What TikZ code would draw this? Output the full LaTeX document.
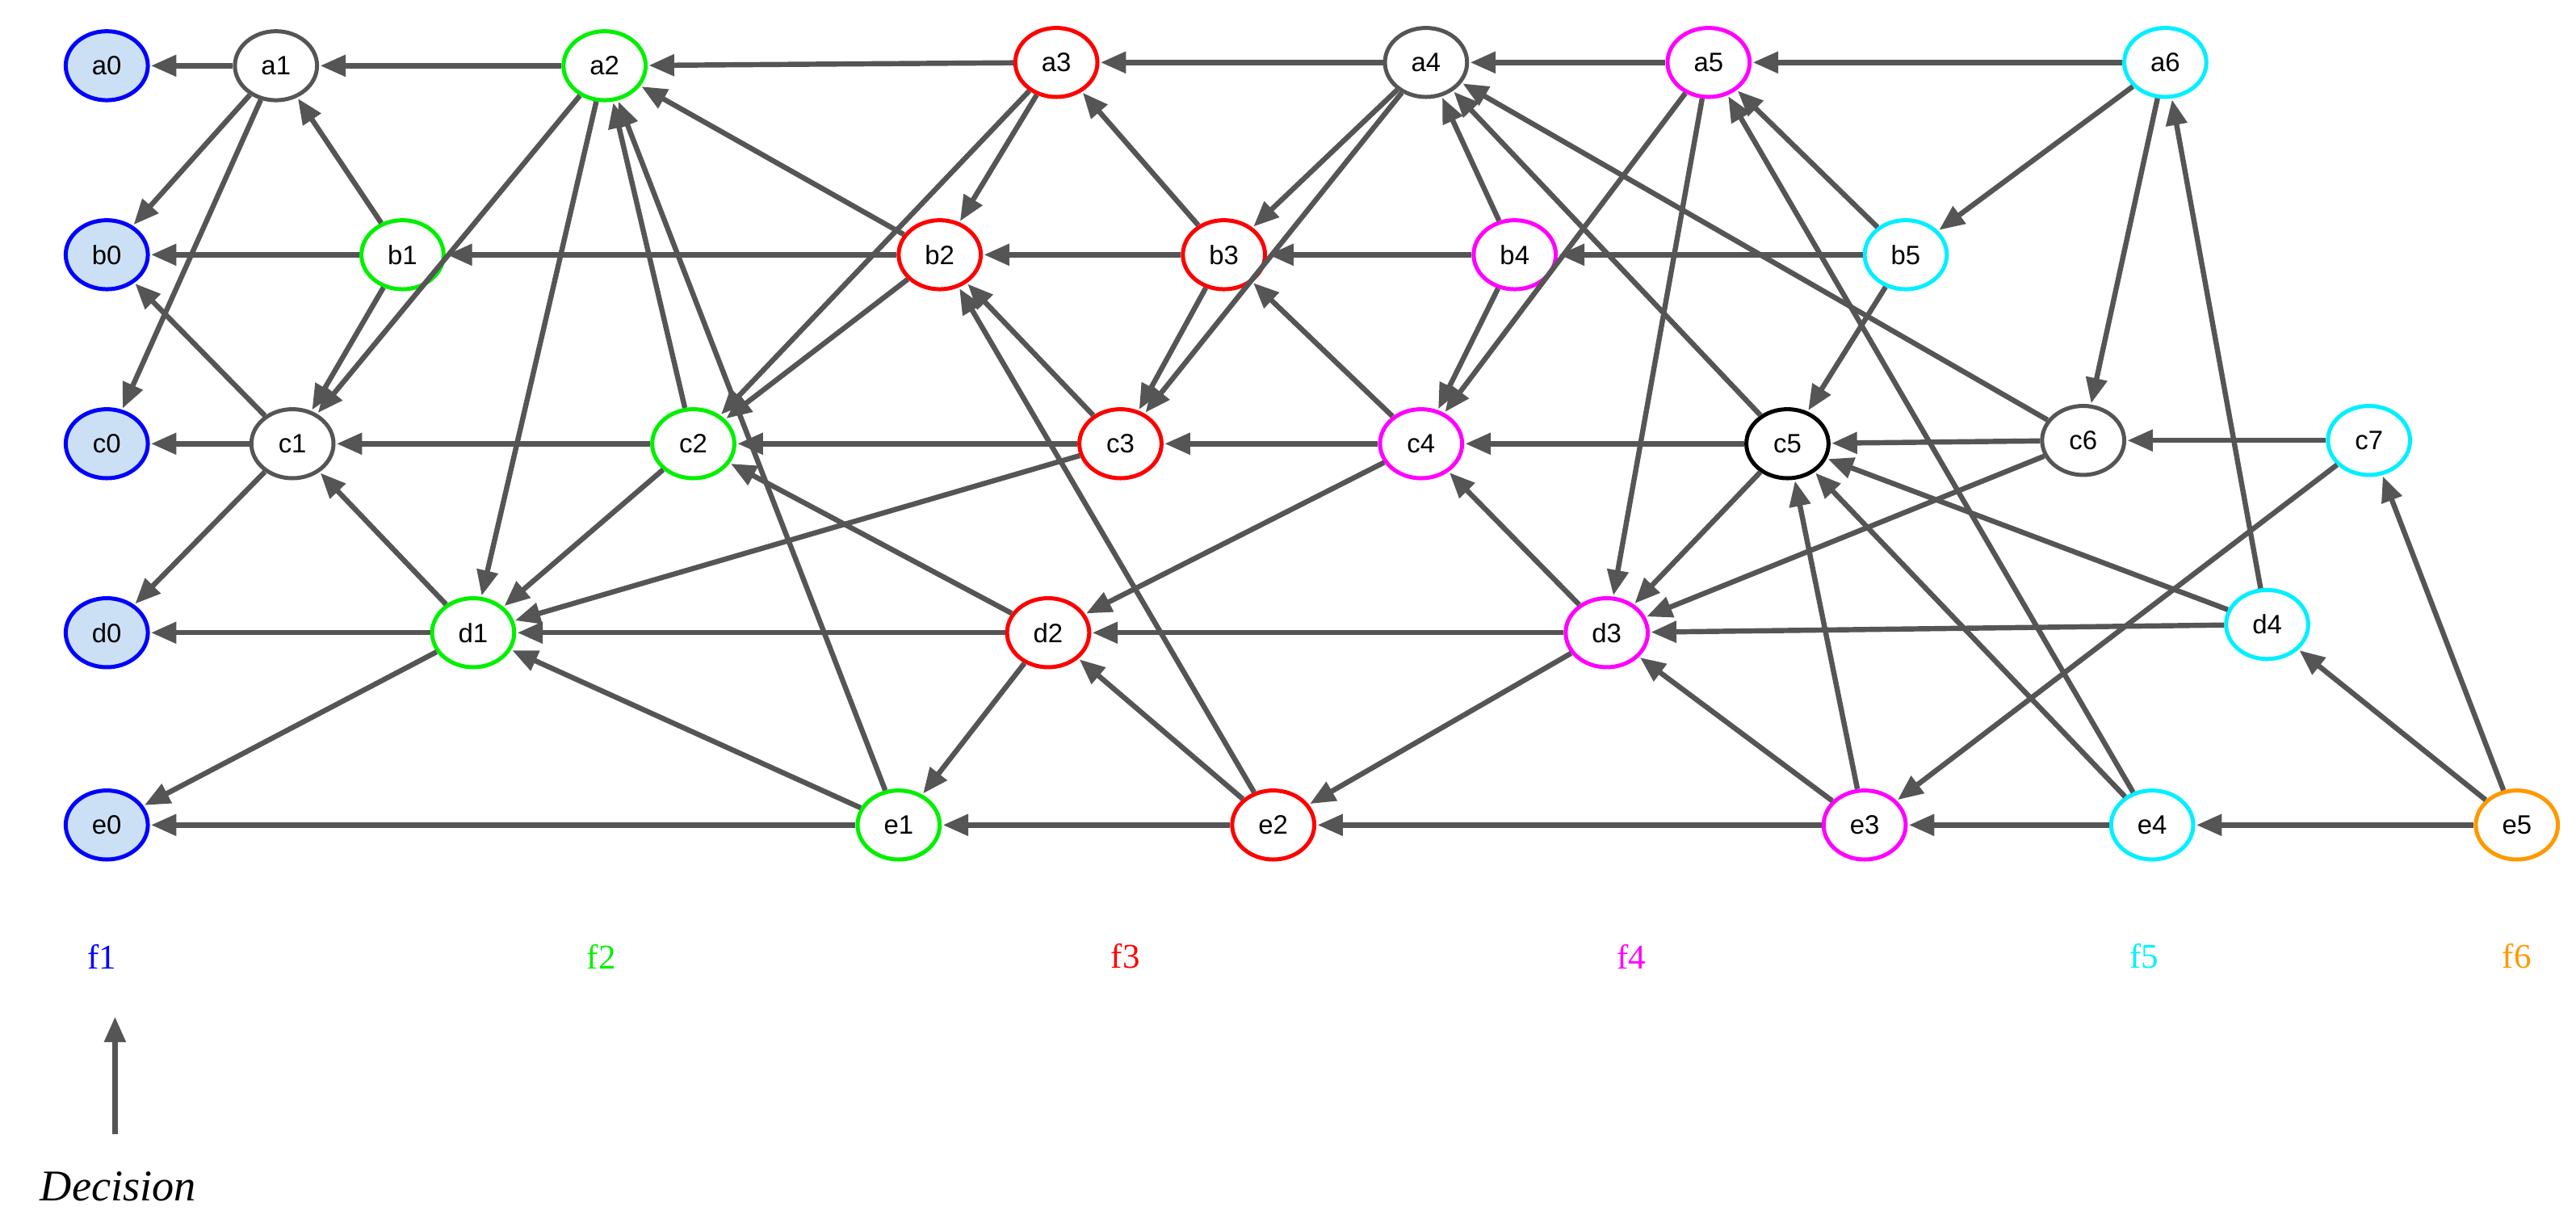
\documentclass[tikz,border=0pt]{standalone}
\usepackage{fontspec}
\setsansfont{Liberation Sans}
\setmainfont{Liberation Serif}
\usetikzlibrary{arrows.meta,shapes.geometric}
\definecolor{eg}{RGB}{85,85,85}
\definecolor{lb}{RGB}{204,224,245}
\definecolor{gg}{RGB}{0,240,0}
\definecolor{rr}{RGB}{255,0,0}
\definecolor{mm}{RGB}{255,0,255}
\definecolor{cc}{RGB}{0,240,255}
\definecolor{oo}{RGB}{255,153,0}
\definecolor{bb}{RGB}{0,0,255}
\tikzset{
 nd/.style={ellipse,draw=#1,line width=3.5pt,fill=white,minimum width=2.5cm,minimum height=2.1cm,inner sep=0pt,font=\sffamily\fontsize{23}{26}\selectfont},
 ar/.style={-{Triangle[length=22pt,width=18pt]},draw=eg,line width=4.5pt,shorten >=1pt},
 fl/.style={font=\fontsize{30}{34}\selectfont,text=#1}
}
\begin{document}
\begin{tikzpicture}[x=0.05cm,y=-0.05cm]
\useasboundingbox (0,0) rectangle (1568,744);
\foreach \n/\x/\y/\c in {a0/65/40/bb,b0/65/155/bb,c0/65/270/bb,d0/65/385/bb,e0/65/502/bb}
 \node[nd=\c,fill=lb] (\n) at (\x,\y) {\n};
\foreach \n/\x/\y/\c in {a1/168/40/eg,a2/368/40/gg,a3/643/38/rr,a4/868/38/eg,a5/1040/38/mm,a6/1318/38/cc,
 b1/245/155/gg,b2/572/155/rr,b3/745/155/rr,b4/922/155/mm,b5/1160/155/cc,
 c1/178/270/eg,c2/422/270/gg,c3/682/270/rr,c4/865/270/mm,c5/1088/270/black,c6/1268/268/eg,c7/1442/268/cc,
 d1/288/385/gg,d2/638/385/rr,d3/978/385/mm,d4/1380/380/cc,
 e1/547/502/gg,e2/775/502/rr,e3/1135/502/mm,e4/1310/502/cc,e5/1532/502/oo}
 \node[nd=\c] (\n) at (\x,\y) {\n};
\foreach \s/\t in {a1/a0,a2/a1,a3/a2,a4/a3,a5/a4,a6/a5,a1/b0,a1/c0,b1/a1,b1/c1,b1/b0,b2/b1,b3/b2,b4/b3,b5/b4,
 c1/b0,c1/c0,c1/d0,c2/c1,c3/c2,c4/c3,c5/c4,c6/c5,c7/c6,d1/d0,d1/c1,d1/e0,d2/d1,d3/d2,d4/d3,
 e1/e0,e2/e1,e3/e2,e4/e3,e5/e4,a2/c1,a2/d1,c2/a2,e1/a2,c2/d1,b2/a2,b2/c2,a3/c2,a3/b2,b3/a3,b3/c3,c3/b2,e2/b2,
 c3/d1,d2/c2,d2/e1,e1/d1,e2/d2,a4/b3,a4/c3,b4/a4,b4/c4,c4/b3,c4/d2,a5/c4,a5/d3,d3/c4,d3/e2,c5/d3,c5/a4,
 e3/d3,e3/c5,e4/c5,e4/a5,b5/a5,b5/c5,c6/a4,c6/d3,d4/c5,d4/a6,a6/b5,a6/c6,c7/e3,e5/c7,e5/d4}
 \draw[ar] (\s) -- (\t);
\node[fl=bb] (f1) at (62,582) {f1};
\node[fl=gg] (f2) at (366,582) {f2};
\node[fl=rr] (f3) at (685,582) {f3};
\node[fl=mm] (f4) at (993,582) {f4};
\node[fl=cc] (f5) at (1305,582) {f5};
\node[fl=oo] (f6) at (1532,582) {f6};
\coordinate (q0) at (70,690);
\coordinate (q1) at (70,618);
\draw[ar] (q0) -- (q1);
\node[font=\itshape\fontsize{38}{42}\selectfont] (dec) at (72,722) {Decision};
\end{tikzpicture}
\end{document}
